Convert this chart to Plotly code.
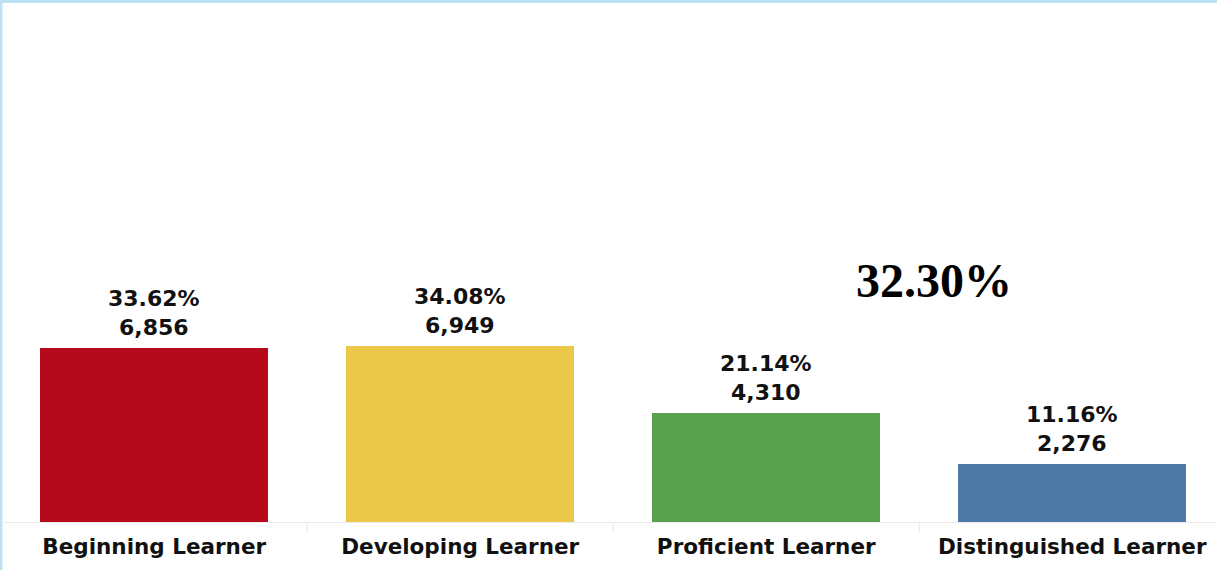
import plotly.graph_objects as go

categories = ["Beginning Learner", "Developing Learner", "Proficient Learner", "Distinguished Learner"]
counts = [6856, 6949, 4310, 2276]
percents = [33.62, 34.08, 21.14, 11.16]
colors = ["#B5091C", "#EBC84A", "#59A14F", "#4E79A7"]
headline = "32.30%"

labels = [f"{p:.2f}%<br>{c:,}" for p, c in zip(percents, counts)]

fig = go.Figure()
fig.add_trace(go.Bar(
    x=list(range(len(categories))), y=counts, marker_color=colors,
    marker_line_width=0, width=0.745, hoverinfo="skip",
))

for i, (c, lab) in enumerate(zip(counts, labels)):
    fig.add_annotation(x=i, y=c, xref="x", yref="y", text=lab, showarrow=False,
                       xanchor="center", yanchor="bottom", yshift=6,
                       font=dict(family="DejaVu Sans", size=22, color="#111111", weight="bold"))

fig.update_xaxes(
    range=[-0.494, 3.473], tickmode="array", tickvals=list(range(len(categories))),
    ticktext=categories, showgrid=False, zeroline=False,
    showline=True, linecolor="#EBEBEB", linewidth=1,
    tickfont=dict(family="DejaVu Sans", size=21.5, color="#111111", weight="bold"),
    ticks="", ticklen=0, ticklabelstandoff=5,
)
fig.update_yaxes(range=[0, 20450], visible=False, showgrid=False)

for b in [0.5, 1.5, 2.5]:
    fig.add_shape(type="line", xref="x", yref="paper", x0=b, x1=b, y0=0, y1=-0.02,
                  line=dict(color="#E6E6E6", width=1))

fig.add_annotation(x=2.548, y=0.466, xref="x", yref="paper", text=headline, showarrow=False,
                   font=dict(family="Liberation Serif", size=48, color="#000000", weight="bold"),
                   xanchor="center", yanchor="middle")

# light blue border on top and left
fig.add_shape(type="rect", xref="paper", yref="paper", x0=-0.01, x1=1.1, y0=1, y1=1.02,
              fillcolor="#BDE0F3", line_width=0, layer="above")
fig.add_shape(type="line", xref="paper", yref="paper", x0=-0.0017, x1=-0.0017, y0=-0.1, y1=1.01,
              line=dict(color="#BDE0F3", width=3), layer="above")

fig.update_layout(
    width=1217, height=570,
    margin=dict(l=3, r=0, t=3, b=48),
    paper_bgcolor="white", plot_bgcolor="white",
    showlegend=False, bargap=0,
)

fig.write_html("out.html", config={"displayModeBar": False},
               post_script="document.body.style.margin='0';")
